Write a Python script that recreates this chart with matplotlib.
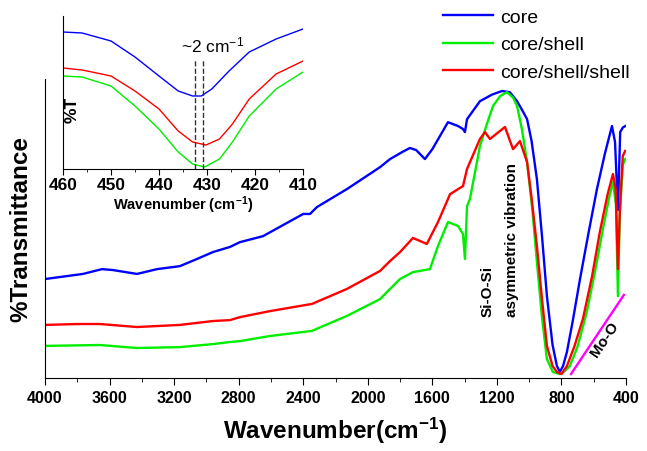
import numpy as np
import matplotlib
matplotlib.use('Agg')
import matplotlib.pyplot as plt
from matplotlib.ticker import MultipleLocator

plt.rcParams['font.family'] = ['Liberation Sans', 'DejaVu Sans']
plt.rcParams['mathtext.fontset'] = 'custom'
plt.rcParams['mathtext.rm'] = 'Liberation Sans'
plt.rcParams['mathtext.bf'] = 'Liberation Sans:bold'
plt.rcParams['mathtext.default'] = 'regular'

# main spectra (wavenumber, %T, arbitrary offset units)
core_wn = [4000, 3765, 3647, 3580, 3430, 3306, 3164, 3058, 2959, 2854, 2792, 2649, 2400, 2358,
           2315, 2129, 1924, 1862, 1788, 1739, 1700, 1646, 1600, 1503, 1440, 1410, 1398, 1385,
           1305, 1230, 1168, 1120, 1075, 1040, 1013, 985, 952, 920, 890, 855, 828, 810, 790,
           766, 730, 685, 630, 580, 530, 487, 468, 450, 436, 420, 405]
core_t = [33, 34.7, 36.3, 36, 34.7, 36.3, 37.3, 39.7, 42, 43.7, 45.3, 47.3, 54.7, 54.7,
          57, 63, 70.3, 73, 75.3, 76.7, 76, 73, 76.3, 85.3, 84, 83, 82, 86.3,
          92.3, 94.5, 95.7, 95.3, 92.3, 89, 86.3, 79, 66.3, 47, 27.3, 11, 4, 2, 4,
          8.7, 19, 33, 49, 63, 75, 84, 78.7, 56, 82, 83.5, 84]

cs_wn = [4000, 3660, 3430, 3164, 2959, 2854, 2792, 2606, 2346, 2129, 1924, 1862, 1800, 1720,
         1615, 1565, 1503, 1441, 1410, 1398, 1385, 1367, 1305, 1260, 1224, 1180, 1138, 1100,
         1075, 1045, 1013, 980, 952, 920, 890, 853, 810, 780, 748, 700, 643, 590, 543, 505,
         481, 462, 450, 438, 420, 405]
cs_t = [10.7, 11, 10, 10.3, 11.3, 12, 12.3, 14, 15.7, 20.7, 26.3, 29.7, 33, 35.3,
        36.3, 44, 52, 50.7, 48, 39.7, 57.3, 59.7, 77.3, 85, 90.7, 94, 95.3, 93.5,
        90.7, 83, 72, 56, 38.7, 20, 6.3, 2, 1.3, 2.3, 4, 10.5, 22, 36, 49.7, 60,
        65.3, 58, 27.3, 55, 71, 73]

css_wn = [4000, 3800, 3660, 3430, 3164, 2959, 2854, 2792, 2606, 2346, 2129, 1924, 1862, 1800,
          1720, 1634, 1565, 1490, 1410, 1385, 1305, 1274, 1243, 1150, 1100, 1057, 1013, 985,
          952, 920, 890, 855, 828, 800, 766, 720, 667, 610, 562, 515, 481, 464, 450, 438,
          420, 405]
css_t = [17.7, 18, 18, 17, 17.7, 19, 19.3, 20.3, 22.3, 24.7, 29.7, 35.7, 39, 42,
         46.7, 44.7, 52, 61.3, 64, 69.7, 79.7, 82, 79.7, 83.7, 76.3, 79, 72, 60,
         44, 26, 10.7, 4, 2, 1.3, 4, 10.5, 19.7, 34, 48.7, 61, 68, 63, 36.3, 56,
         74, 75.7]

# inset: 460-410 cm-1 region
in_blue_wn = [460, 456, 450, 445, 440, 436, 433, 431.2, 429, 425.4, 421.2, 415.6, 410]
in_blue_t = [137, 136, 128, 112, 93, 78, 73, 73, 80, 98, 117, 130, 140]
in_red_wn = [460, 456, 450, 445, 440, 436, 433, 430.2, 427.4, 424.7, 421.2, 415.6, 410]
in_red_t = [101, 99, 93, 78, 60, 38, 27, 24, 30, 45, 70, 95, 108]
in_green_wn = [460, 456, 450, 445, 440, 436, 433, 430.5, 427.4, 424.7, 421.2, 415.6, 410]
in_green_t = [93, 92, 83, 63, 40, 17, 5, 2, 10, 27, 53, 80, 97]
shift_lines = [432.6, 430.8]

moo_wn = [741, 413]
moo_t = [1.3, 27.7]

blue, green, red = '#0000ff', '#00ee00', '#ff0000'

fig = plt.figure(figsize=(6.47, 4.52), dpi=100)
ax = fig.add_axes([45/647, 1-379/452, 581/647, 299/452])

ax.plot(core_wn, core_t, color=blue, lw=1.7, label='core')
ax.plot(cs_wn, cs_t, color=green, lw=1.7, label='core/shell')
ax.plot(css_wn, css_t, color=red, lw=1.7, label='core/shell/shell')
ax.plot(moo_wn, moo_t, color='#ff00ff', lw=1.7)

ax.set_xlim(4000, 400)
ax.set_ylim(0, 99.7)
ax.xaxis.set_major_locator(MultipleLocator(400))
ax.xaxis.set_minor_locator(MultipleLocator(200))
ax.set_yticks([])
ax.spines['top'].set_visible(False)
ax.spines['right'].set_visible(False)
ax.tick_params(axis='x', which='major', length=5, labelsize=11.5, pad=4)
ax.tick_params(axis='x', which='minor', length=3)
for lab in ax.get_xticklabels():
    lab.set_fontweight('bold')
ax.set_xlabel(r'Wavenumber(cm$^{\mathbf{-1}}$)', fontsize=17.5, fontweight='bold', labelpad=7)
ax.set_ylabel('%Transmittance', fontsize=17.5, fontweight='bold', labelpad=9)

ax.text(1255, 20.7, 'Si-O-Si', rotation=90, ha='center', va='bottom',
        fontsize=11, fontweight='bold')
ax.text(1107, 20.7, 'asymmetric vibration', rotation=90, ha='center', va='bottom',
        fontsize=11, fontweight='bold')
ax.text(530, 13, 'Mo-O', rotation=56, ha='center', va='center',
        fontsize=11, fontweight='bold')

fig.legend(loc='upper left', bbox_to_anchor=(431/647, 1.005), frameon=False,
           fontsize=14, handlelength=2.6, handletextpad=0.36, labelspacing=0.5,
           borderaxespad=0.2)

# inset
ax_in = fig.add_axes([63/647, 1-170/452, 240/647, 153/452])
ax_in.patch.set_alpha(0)
ax_in.plot(in_blue_wn, in_blue_t, color=blue, lw=1)
ax_in.plot(in_red_wn, in_red_t, color=red, lw=1)
ax_in.plot(in_green_wn, in_green_t, color=green, lw=1)
ax_in.vlines(shift_lines, 0, 110, colors='#333333', linestyles='--', lw=1)
ax_in.text(428.8, 125, r'~2 cm$^{-1}$', ha='center', va='center', fontsize=12.5)
ax_in.text(0.037, 0.39, '%T', rotation=90, ha='center', va='center',
           fontsize=12.5, fontweight='bold', transform=ax_in.transAxes)
ax_in.set_xlim(460, 410)
ax_in.set_ylim(0, 153)
ax_in.xaxis.set_major_locator(MultipleLocator(10))
ax_in.xaxis.set_minor_locator(MultipleLocator(5))
ax_in.set_yticks([])
ax_in.spines['top'].set_visible(False)
ax_in.spines['right'].set_visible(False)
ax_in.tick_params(axis='x', which='major', length=4, labelsize=12.5, pad=2)
ax_in.tick_params(axis='x', which='minor', length=2)
for lab in ax_in.get_xticklabels():
    lab.set_fontweight('bold')
ax_in.set_xlabel(r'Wavenumber (cm$^{\mathbf{-1}}$)', fontsize=10.5, fontweight='bold', labelpad=1)

fig.savefig('out.png', dpi=100)
